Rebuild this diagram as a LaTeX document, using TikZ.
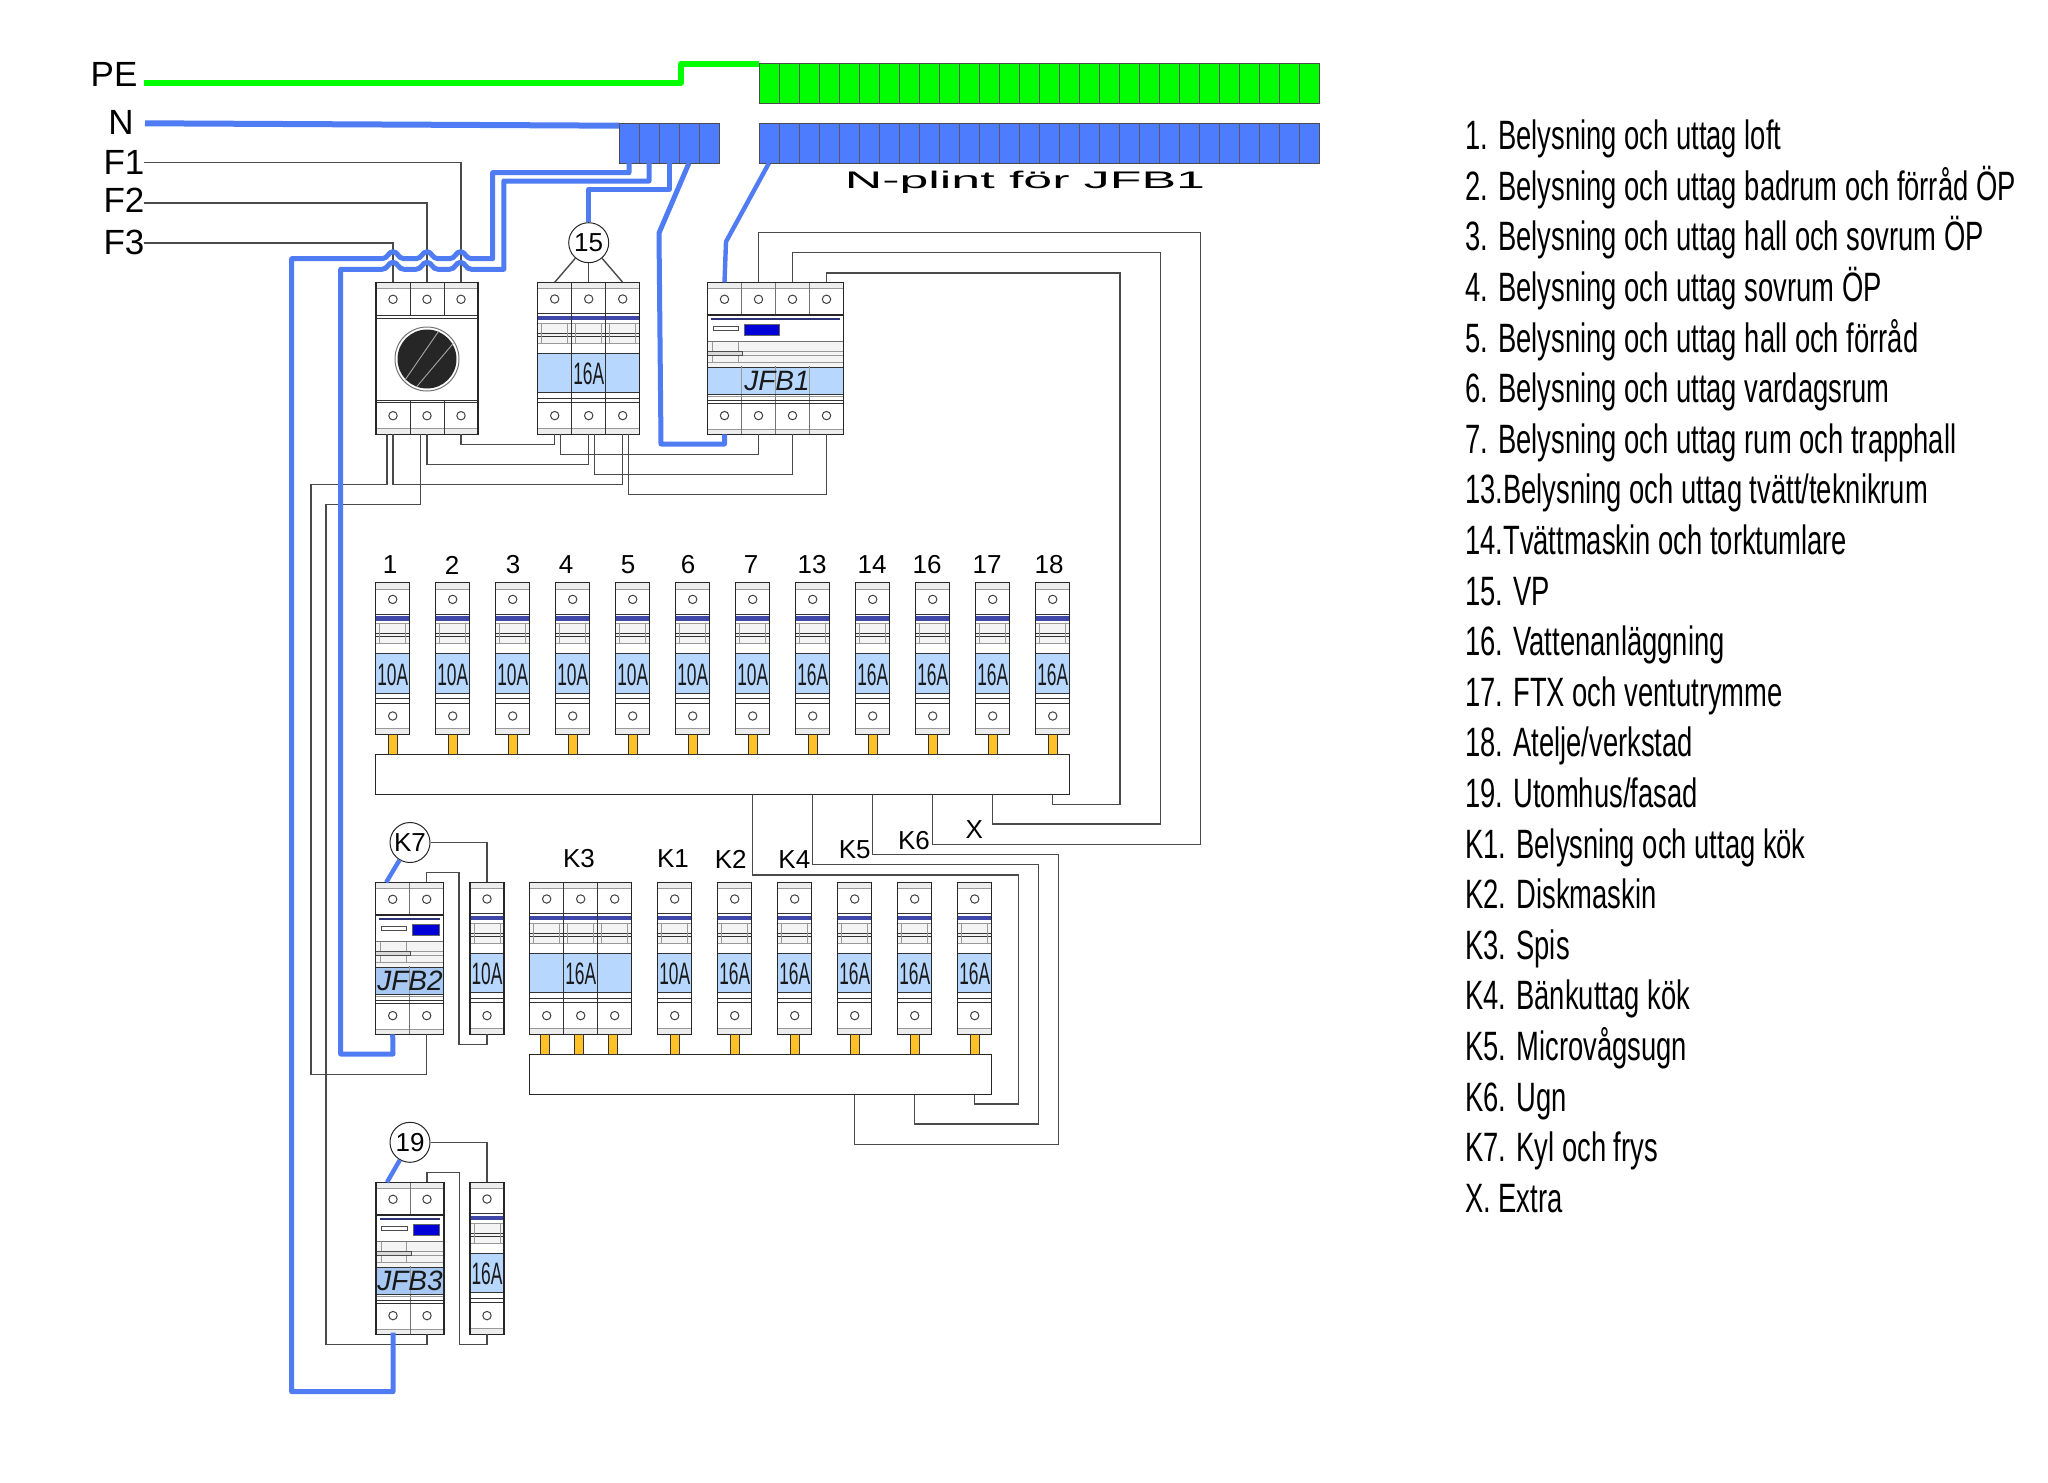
\documentclass[tikz,border=0pt]{standalone}
\usepackage{fontspec}
\setmainfont{Liberation Sans}
\newfontfamily\ampf[FakeStretch=0.56]{Liberation Sans}
\newfontfamily\legf[FakeStretch=0.668]{Liberation Sans}
\newfontfamily\widef[FakeStretch=2.16]{Liberation Sans}
\usetikzlibrary{calc}
\definecolor{wireblue}{HTML}{4F7CF2}
\definecolor{plintblue}{HTML}{4D7CFF}
\definecolor{pegreen}{HTML}{00FF00}
\definecolor{wiregray}{HTML}{4A4A4A}
\definecolor{stripgray}{HTML}{EDEDED}
\definecolor{bandgray}{HTML}{F4F4F4}
\definecolor{labelblue}{HTML}{B7D7FF}
\definecolor{labeldark}{HTML}{A6C8F2}
\definecolor{bandblue}{HTML}{3F48A8}
\definecolor{stuborange}{HTML}{FFC028}
\tikzset{
  wire/.style={draw=wiregray,line width=1.4pt},
  bluewire/.style={draw=wireblue,line width=5pt,line join=round},
  mainblue/.style={draw=wireblue,line width=6pt,line join=round},
  thinblue/.style={draw=wireblue,line width=4.4pt,line join=round},
  greenwire/.style={draw=pegreen,line width=6pt,line join=round},
  frame/.style={draw=black!85,line width=1.3pt},
  fineln/.style={draw=black!40,line width=0.8pt},
  darkln/.style={draw=black!80,line width=1pt},
  hole/.style={draw=black!75,fill=white,line width=1pt},
  ampt/.style={font=\ampf\fontsize{31}{33}\selectfont,inner sep=0pt,text=black!90},
  jfbt/.style={font=\itshape\fontsize{28}{30}\selectfont,inner sep=0pt,text=black!90},
  lab/.style={font=\fontsize{26}{30}\selectfont,inner sep=0pt},
  feed/.style={font=\fontsize{35}{38}\selectfont,inner sep=0pt},
  legend/.style={font=\legf\fontsize{41}{44}\selectfont,inner sep=0pt,anchor=base west},
  ringnode/.style={circle,draw=black!85,fill=white,line width=1pt,minimum size=40pt,inner sep=0pt,font=\fontsize{26}{30}\selectfont},
  barnode/.style={draw=black!85,fill=white,line width=1.2pt,inner sep=0pt,anchor=north west},
  stubst/.style={draw=black!80,fill=stuborange,line width=0.9pt}
}
% terminal block with cells
\newcommand{\plint}[6]{% name,x,y,n,fill,height
  \node[draw=black!70,fill=#5,line width=1pt,inner sep=0pt,anchor=north west,minimum width={20*#4*1pt},minimum height=#6pt] (#1) at (#2,#3) {};
  \foreach \ii in {1,...,#4}{
    \coordinate (#1-\ii) at ({#2+20*(\ii-.5)},{#3+#6});
    \ifnum\ii<#4 \draw[draw=black!65,line width=.8pt] ({#2+20*\ii},#3) -- ({#2+20*\ii},{#3+#6});\fi
  }
}
% miniature breaker
\newcommand{\breaker}[5]{% name,x,y,poles,amp
  \begin{scope}[shift={(#2,#3)}]
    \pgfmathsetmacro\W{34*#4}
    \fill[white] (0,0) rectangle (\W,152);
    \fill[stripgray] (0,0) rectangle (\W,6.3);
    \fill[stripgray] (0,146) rectangle (\W,152);
    \draw[fineln] (0,6.3) -- (\W,6.3) (0,146) -- (\W,146);
    \fill[bandgray] (0,40.7) rectangle (\W,61);
    \draw[darkln] (0,31.3) -- (\W,31.3);
    \fill[bandblue] (0,33.5) rectangle (\W,38);
    \draw[fineln] (0,40.7) -- (\W,40.7);
    \draw[darkln] (0,51) -- (\W,51) (0,54) -- (\W,54);
    \draw[fineln] (0,61) -- (\W,61);
    \fill[labelblue] (0,70.7) rectangle (\W,110.5);
    \draw[darkln] (0,70.7) -- (\W,70.7) (0,110.5) -- (\W,110.5) (0,116) -- (\W,116) (0,120.5) -- (\W,120.5);
    \foreach \ii in {1,...,#4}{
      \coordinate (#1-t\ii) at ({34*(\ii-.5)},0);
      \coordinate (#1-b\ii) at ({34*(\ii-.5)},152);
      \draw[hole] ({34*(\ii-.5)},16.7) circle (4.2);
      \draw[hole] ({34*(\ii-.5)},133.3) circle (4.2);
      \draw[fineln] ({34*(\ii-1)+4},40.7) -- ({34*(\ii-1)+4},61) ({34*\ii-4},40.7) -- ({34*\ii-4},61);
      \ifnum\ii<#4 \draw[darkln] ({34*\ii},0) -- ({34*\ii},152);\fi
    }
    \draw[frame] (0,0) rectangle (\W,152);
    \node[ampt] (#1-amp) at (\W/2,92) {#5};
  \end{scope}
}
% residual current breaker
\newcommand{\rcd}[8]{% name,x,y,poles,blue width,label,label fill,label x
  \begin{scope}[shift={(#2,#3)}]
    \pgfmathsetmacro\W{34*#4}
    \fill[white] (0,0) rectangle (\W,152);
    \fill[stripgray] (0,0) rectangle (\W,6.3);
    \fill[stripgray] (0,146.7) rectangle (\W,152);
    \draw[fineln] (0,6.3) -- (\W,6.3) (0,146.7) -- (\W,146.7);
    \fill[bandgray] (0,59.3) rectangle (\W,84.3);
    \draw[draw=black!85,line width=1.8pt] (0,32.7) -- (\W,32.7);
    \draw[draw=bandblue!70!black,line width=2pt] (3.7,36.7) -- ({\W-3.7},36.7);
    \draw[draw=black!70,fill=white,line width=.8pt] (5.4,43.7) rectangle (31,48.3);
    \draw[draw=black!60,fill=blue!85!black,line width=.8pt] (37,42) rectangle ({37+#5},53);
    \draw[draw=black!55,line width=1.2pt] (0,59.3) -- (\W,59.3);
    \draw[fineln] (0,69) -- (\W,69) (0,72.7) -- (\W,72.7) (0,80) -- (\W,80) (5,59.3) -- (5,80) (30.6,59.3) -- (30.6,80);
    \draw[draw=black!70,fill=black!15,line width=.8pt] (0,69) rectangle (35,72.7);
    \foreach \ii in {1,...,#4}{
      \ifnum\ii<#4 \draw[draw=black!55,line width=.9pt] ({34*\ii},0) -- ({34*\ii},32) ({34*\ii},84) -- ({34*\ii},152);\fi
    }
    \fill[#7] (0,85.3) rectangle (\W,112);
    \draw[darkln] (0,85) -- (\W,85) (0,112) -- (\W,112) (0,118.6) -- (\W,118.6) (0,121) -- (\W,121);
    \draw[fineln] (0,114.3) -- (\W,114.3);
    \foreach \ii in {1,...,#4}{
      \coordinate (#1-t\ii) at ({34*(\ii-.5)},0);
      \coordinate (#1-b\ii) at ({34*(\ii-.5)},152);
      \draw[hole] ({34*(\ii-.5)},17) circle (4.2);
      \draw[hole] ({34*(\ii-.5)},133.3) circle (4.2);
      \ifnum\ii<#4 \draw[draw=black!40,line width=.9pt] ({34*\ii},85) -- ({34*\ii},112);\fi
    }
    \draw[frame] (0,0) rectangle (\W,152);
    \node[jfbt] (#1-lab) at (#8,98.5) {#6};
  \end{scope}
}
\newcommand{\hop}[2]{-- (#1+11,#2) .. controls (#1+5,#2) and (#1+5,#2-7) .. (#1,#2-7) .. controls (#1-5,#2-7) and (#1-5,#2) .. (#1-11,#2)}
\begin{document}
\begin{tikzpicture}[x=1pt,y=-1pt]
\useasboundingbox (0,0) rectangle (2048,1483);
\fill[white] (0,0) rectangle (2048,1483);

% plints
\plint{plPE}{759}{62.7}{28}{pegreen}{40.6}
\plint{plN}{759}{123.3}{28}{plintblue}{39.7}
\plint{plS}{619}{123.3}{5}{plintblue}{39.7}
\node[font=\widef\fontsize{24}{26}\selectfont,inner sep=0pt] (nplint) at (1025,182.5) {N-plint för JFB1};

% bars
\node[barnode,minimum width=693.6pt,minimum height=40.3pt] (bar1) at (375.2,753.5) {};
\node[barnode,minimum width=462pt,minimum height=40pt] (bar2) at (529.2,1053.8) {};

% main switch
\begin{scope}[shift={(376,282.3)}]
  \fill[white] (0,0) rectangle (102,152);
  \fill[stripgray] (0,0) rectangle (102,6);
  \fill[stripgray] (0,146.5) rectangle (102,152);
  \draw[fineln] (0,6) -- (102,6) (0,146.5) -- (102,146.5);
  \draw[darkln] (0,33.4) -- (102,33.4) (0,35.7) -- (102,35.7) (0,117.7) -- (102,117.7) (0,120) -- (102,120);
  \foreach \ii in {1,2,3}{
    \coordinate (sw-t\ii) at ({34*(\ii-.5)},0);
    \coordinate (sw-b\ii) at ({34*(\ii-.5)},152);
    \draw[hole] ({34*(\ii-.5)},17) circle (4.2);
    \draw[hole] ({34*(\ii-.5)},133.4) circle (4.2);
  }
  \draw[darkln] (34,0) -- (34,34) (68,0) -- (68,34) (34,118) -- (34,152) (68,118) -- (68,152);
  \draw[draw=black!55,fill=white,line width=1pt] (51,76.7) circle (32);
  \fill[black!85] (51,76.7) circle (29.5);
  \draw[draw=black!35,line width=.9pt] (29,97.7) -- (62.3,49.4) (40.7,104.4) -- (77.3,61);
  \draw[frame] (0,0) rectangle (102,152);
\end{scope}

% breaker 15 and JFBs
\breaker{q15}{537.7}{282.3}{3}{16A}
\rcd{jfb1}{707.5}{282.3}{4}{34.7}{JFB1}{labelblue}{69.5}
\rcd{jfb2}{375.7}{882.3}{2}{26.6}{JFB2}{labeldark}{34.3}
\rcd{jfb3}{376}{1182.3}{2}{26.6}{JFB3}{labeldark}{34}
\breaker{qk7}{470}{882.3}{1}{10A}
\breaker{q19}{470}{1182.3}{1}{16A}

% row 1
\foreach \n/\c/\lx/\amp in {1/392.7/390/10A,2/452.7/452/10A,3/512.7/513/10A,4/572.7/566/10A,5/632.7/628/10A,6/692.7/688/10A,7/752.7/751/10A,13/812.7/812/16A,14/872.7/872/16A,16/932.7/927/16A,17/992.7/987/16A,18/1052.7/1049/16A}{
  \breaker{m\n}{\c-17}{582.7}{1}{\amp}
  \node[lab] (lm\n) at (\lx,565) {\n};
  \draw[stubst] (\c-4.3,734.7) rectangle (\c+4.3,754);
}
% row 2
\breaker{k3}{529.7}{882.3}{3}{16A}
\foreach \n/\c/\amp in {k1/674.7/10A,k2/734.7/16A,k4/794.7/16A,k5/854.7/16A,k6/914.7/16A,kx/974.7/16A}{
  \breaker{\n}{\c-17}{882.3}{1}{\amp}
}
\foreach \c in {545,579,612.7,674.7,734.7,794.7,854.7,914.7,974.7}{
  \draw[stubst] (\c-4.3,1034.3) rectangle (\c+4.3,1054.3);
}
\node[lab] (lk3) at (579,859) {K3};
\node[lab] (lk1) at (673,859) {K1};
\node[lab] (lk2) at (730.7,859) {K2};
\node[lab] (lk4) at (794.3,859.5) {K4};
\node[lab] (lk5) at (854.7,850) {K5};
\node[lab] (lk6) at (914,840.5) {K6};
\node[lab] (lkx) at (974.3,829.5) {X};

% rings
\node[ringnode] (c15) at (588.7,242.7) {15};
\node[ringnode] (ck7) at (410,842.5) {K7};
\node[ringnode] (c19) at (410,1142.3) {19};

% feed labels
\node[feed] (lPE) at (114,74.5) {PE};
\node[feed] (lN) at (121,122.7) {N};
\node[feed] (lF1) at (124,162.3) {F1};
\node[feed] (lF2) at (124,200.5) {F2};
\node[feed] (lF3) at (124,242) {F3};

% free ends
\coordinate (f1) at (143.5,162.7);
\coordinate (f2) at (143.5,203);
\coordinate (f3) at (143.5,243);
\coordinate (pe0) at (144,82.7);
\coordinate (n0) at (145,123.3);
\coordinate (swb1l) at ($(sw-b1)+(-6.2,0)$);
\coordinate (swb2l) at ($(sw-b2)+(-6.3,0)$);
\coordinate (qb1r) at ($(q15-b1)+(6,0)$);
\coordinate (qb2r) at ($(q15-b2)+(6,0)$);
\coordinate (qb3r) at ($(q15-b3)+(6,0)$);
\coordinate (j2t) at ($(jfb2-t1)+(-6.5,0)$);
\coordinate (j3t) at ($(jfb3-t1)+(-6,0)$);

% phase wires
\draw[wire] (f1) -| (sw-t3);
\draw[wire] (f2) -| (sw-t2);
\draw[wire] (f3) -| (sw-t1);
\draw[wire] (sw-b3) -- ++(0,10) -| (q15-b1);
\draw[wire] (qb1r) -- ++(0,20) -| (jfb1-b2);
\draw[wire] (sw-b2) -- ++(0,30) -| (q15-b2);
\draw[wire] (qb2r) -- ++(0,40) -| (jfb1-b3);
\draw[wire] (sw-b1) -- ++(0,50) -| (q15-b3);
\draw[wire] (qb3r) -- ++(0,60) -| (jfb1-b4);
\draw[wire] (swb1l) -- ++(0,50) -- ++(-75.8,0) |- ($(jfb2-b2)+(0,40)$) -- (jfb2-b2);
\draw[wire] (swb2l) -- ++(0,70) -- ++(-94.7,0) |- ($(jfb3-b2)+(0,10)$) -- (jfb3-b2);
\draw[wire] (c15) -- (q15-t1);
\draw[wire] (c15) -- (q15-t2);
\draw[wire] (c15) -- (q15-t3);

% JFB1 to bar 1
\draw[wire] (jfb1-t2) |- (1200.3,232.7) -- (1200.3,844.3) -| (m16-b1 |- bar1.south);
\draw[wire] (jfb1-t3) |- (1160.4,252.7) -- (1160.4,824) -| (m17-b1 |- bar1.south);
\draw[wire] (jfb1-t4) |- (1120,273) -- (1120,804.3) -| (m18-b1 |- bar1.south);
% bar 1 to bar 2
\draw[wire] (m7-b1 |- bar1.south) |- (1018.3,875) -- (1018.3,1104) -| (kx-b1 |- bar2.south);
\draw[wire] (m13-b1 |- bar1.south) |- (1038.3,864.3) -- (1038.3,1124) -| (k6-b1 |- bar2.south);
\draw[wire] (m14-b1 |- bar1.south) |- (1058.7,854.7) -- (1058.7,1144.3) -| (k5-b1 |- bar2.south);
% kitchen / outdoor
\draw[wire] (ck7) -| (qk7-t1);
\draw[wire] (jfb2-t2) -- ++(0,-9.6) -- ++(32.3,0) |- ($(qk7-b1)+(0,10)$) -- (qk7-b1);
\draw[wire] (c19) -| (q19-t1);
\draw[wire] (jfb3-t2) -- ++(0,-10) -- ++(32.6,0) |- ($(q19-b1)+(0,10)$) -- (q19-b1);

% protective earth and neutral
\draw[greenwire] (pe0) -- (681,82.7) -- (681,64) -- (plPE.north west |- 0,64);
\draw[mainblue] (n0) -- (plS.north west |- 0,125.7);
\draw[bluewire] (plS-1) -- ++(0,9.7) -- (492.6,172.7) -- (492.6,258.7) \hop{460.5}{258.7} \hop{427}{258.7} \hop{393}{258.7} -- (291.7,258.7) |- (393,1391.7) -- (393,1332.7);
\draw[bluewire] (plS-2) -- ++(0,18) -- (503.8,181) -- (503.8,269.3) \hop{460.5}{269.3} \hop{427}{269.3} \hop{393}{269.3} -- (340.7,269.3) |- (393,1054) -- (jfb2-b1);
\draw[bluewire] (plS-3) -- ++(0,26.3) -| (c15.north);
\draw[bluewire] (plS-4) -- (659,233) -- (661,444) -| (jfb1-b1);
\draw[thinblue] (plN-1) -- (726,241.7) -- (jfb1-t1);
\draw[thinblue] (ck7) -- (j2t);
\draw[thinblue] (c19) -- (j3t);

% legend
\foreach \t [count=\i] in {1. Belysning och uttag loft,2. Belysning och uttag badrum och förråd ÖP,3. Belysning och uttag hall och sovrum ÖP,4. Belysning och uttag sovrum ÖP,5. Belysning och uttag hall och förråd,6. Belysning och uttag vardagsrum,7. Belysning och uttag rum och trapphall,13.Belysning och uttag tvätt/teknikrum,14.Tvättmaskin och torktumlare,15. VP,16. Vattenanläggning,17. FTX och ventutrymme,18. Atelje/verkstad,19. Utomhus/fasad,K1. Belysning och uttag kök,K2. Diskmaskin,K3. Spis,K4. Bänkuttag kök,K5. Microvågsugn,K6. Ugn,K7. Kyl och frys,X. Extra}{
  \node[legend] (leg\i) at (1465,{149.7+50.6*(\i-1)}) {\t};
}
\end{tikzpicture}
\end{document}
